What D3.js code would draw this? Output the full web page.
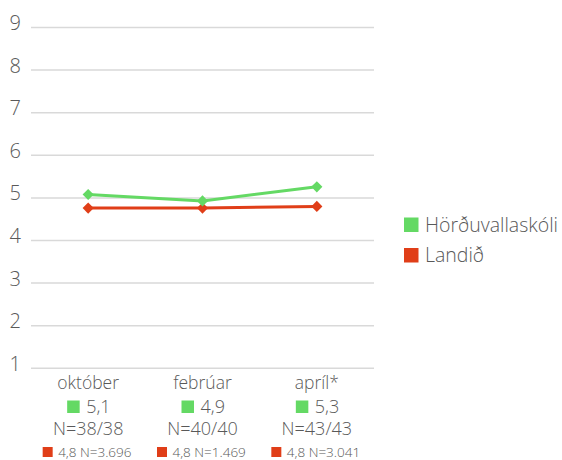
<!DOCTYPE html>
<html>
<head>
<meta charset="utf-8">
<script src="https://cdn.jsdelivr.net/npm/d3@7/dist/d3.min.js"></script>
<style>
  body { margin: 0; background: #fff; }
  svg text { font-family: "Open Sans", Lato, sans-serif; font-weight: 300; fill: #595959; }
</style>
</head>
<body>
<svg id="chart" width="562" height="460"></svg>
<script>
const categories = ["október", "febrúar", "apríl*"];
const schoolValues = [5.08, 4.93, 5.26];
const nationalValues = [4.76, 4.76, 4.80];
const schoolN = ["N=38/38", "N=40/40", "N=43/43"];
const nationalN = ["N=3.696", "N=1.469", "N=3.041"];
const seriesNames = ["Hörðuvallaskóli", "Landið"];
const yTicks = [1, 2, 3, 4, 5, 6, 7, 8, 9];

const colors = ["#64d964", "#e03e18"];
const fmt = v => d3.format(".1f")(v).replace(".", ",");

const svg = d3.select("#chart");
const x = d3.scaleBand().domain(categories).range([31, 374]);
const y = d3.scaleLinear().domain([1, 9]).range([368.3, 27.5]);

// horizontal gridlines
svg.append("g").selectAll("line").data(yTicks).join("line")
  .attr("x1", 31).attr("x2", 374)
  .attr("y1", d => y(d)).attr("y2", d => y(d))
  .attr("stroke", "#d9d9d9").attr("stroke-width", 1.5);

// y tick labels
svg.append("g").selectAll("text").data(yTicks).join("text")
  .attr("x", 21).attr("y", d => y(d) + 2.5)
  .attr("text-anchor", "end")
  .attr("font-size", 20)
  .text(d => d);

// series lines with diamond markers
const cx = c => x(c) + x.bandwidth() / 2;
[nationalValues, schoolValues].forEach((vals, i) => {
  const col = i === 0 ? colors[1] : colors[0];
  const pts = categories.map((c, j) => [cx(c), y(vals[j])]);
  svg.append("path")
    .attr("d", d3.line()(pts))
    .attr("fill", "none").attr("stroke", col).attr("stroke-width", 3);
  svg.append("g").selectAll("path").data(pts).join("path")
    .attr("d", d3.symbol().type(d3.symbolSquare).size(62))
    .attr("transform", d => `translate(${d[0]},${d[1]}) rotate(45)`)
    .attr("fill", col);
});

// category labels and value rows
const cat = svg.append("g").selectAll("g").data(categories).join("g")
  .attr("transform", c => `translate(${cx(c)},0)`);
cat.append("text").attr("y", 389).attr("text-anchor", "middle")
  .attr("font-size", 17.5).text(c => c);

cat.each(function(c, j) {
  const g = d3.select(this);
  g.append("text").attr("y", 412.5).attr("font-size", 18).attr("x", -2)
    .text(fmt(schoolValues[j]));
  g.append("rect").attr("x", -21).attr("y", 400.5).attr("width", 12.5).attr("height", 12.5)
    .attr("fill", colors[0]);
  g.append("text").attr("y", 434.5).attr("text-anchor", "middle")
    .attr("font-size", 18).text(schoolN[j]);
  g.append("rect").attr("x", -45.5).attr("y", 447).attr("width", 10).attr("height", 10)
    .attr("fill", colors[1]);
  g.append("text").attr("x", -30).attr("y", 456.5).attr("font-size", 13.5)
    .text(fmt(nationalValues[j]) + " " + nationalN[j]);
});

// legend
const legend = svg.append("g").selectAll("g").data(seriesNames).join("g")
  .attr("transform", (d, i) => `translate(404,${217.5 + i * 30.5})`);
legend.append("rect").attr("width", 14.5).attr("height", 14.5)
  .attr("fill", (d, i) => colors[i]);
legend.append("text").attr("x", 21).attr("y", 14).attr("font-size", 19.5)
  .text(d => d);
</script>
</body>
</html>
